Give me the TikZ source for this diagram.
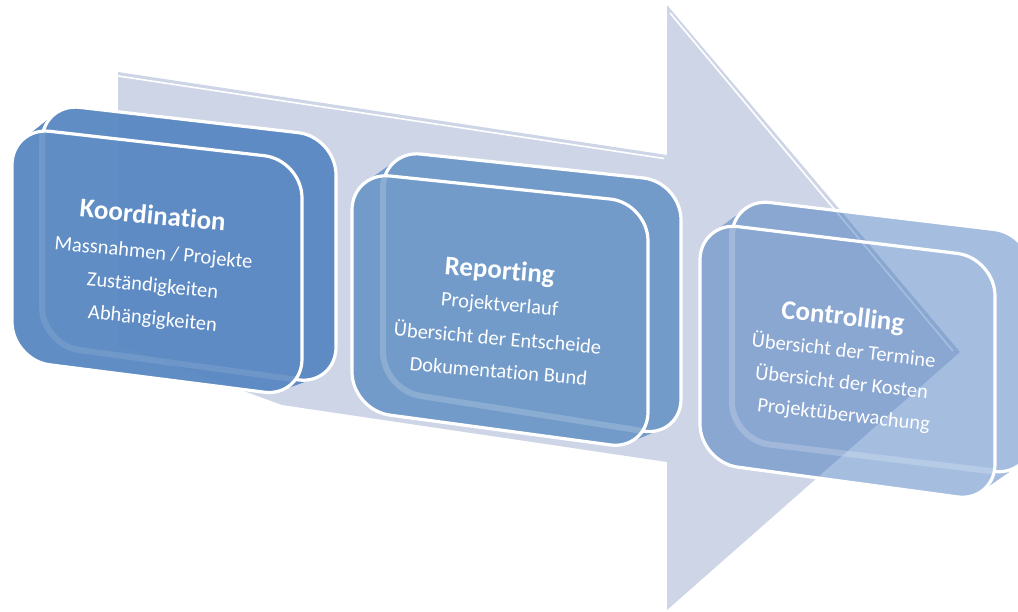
\documentclass[tikz,border=0pt]{standalone}
\usepackage{fontspec}
\setmainfont{Carlito}[Ligatures={NoCommon,NoDiscretionary}]
\usetikzlibrary{calc}
\definecolor{arrowc}{HTML}{CDD5E6}
\definecolor{boxA}{HTML}{5A89C2}
\definecolor{boxB}{HTML}{729BC9}
\definecolor{boxC}{RGB}{59,114,188}
\newcommand\drawbox[4]{%
  \begin{scope}[transparency group, opacity=#3]
    \fill[#2,face] (#1Ba)--(#1Bb)--(#1Bc)--(#1Bd)--cycle;
    \foreach \t in {0.08,0.16,...,0.96}{
      \fill[#2,face] ($(#1Ba)!\t!(#1Fa)$)--($(#1Bb)!\t!(#1Fb)$)--($(#1Bc)!\t!(#1Fc)$)--($(#1Bd)!\t!(#1Fd)$)--cycle;
    }
    \fill[#2,face] (#1Fa)--(#1Fb)--(#1Fc)--(#1Fd)--cycle;
  \end{scope}
  \begin{scope}[even odd rule,face]
    \clip (0,0) rectangle (1018,612) (#1Fa)--(#1Fb)--(#1Fc)--(#1Fd)--cycle;
    \draw[outline] (#1Ba)--(#1Bb)--(#1Bc)--(#1Bd)--cycle;
  \end{scope}
  \begin{scope}[face]
    \clip (#1Fa)--(#1Fb)--(#1Fc)--(#1Fd)--cycle;
    \draw[white,opacity=#4,line width=6pt] (#1Ba)--(#1Bb)--(#1Bc)--(#1Bd)--cycle;
  \end{scope}
  \draw[outline,face] (#1Fa)--(#1Fb)--(#1Fc)--(#1Fd)--cycle;
}
\begin{document}
\begin{tikzpicture}[x=1pt,y=-1pt,
  face/.style={rounded corners=38pt},
  outline/.style={draw=white,line width=3.2pt},
  title/.style={font=\bfseries\fontsize{27}{30}\selectfont,text=white,inner sep=0pt,anchor=base},
  body/.style={font=\fontsize{20.5}{24}\selectfont,text=white,inner sep=0pt,anchor=base}]
\useasboundingbox (0,0) rectangle (1018,612);
% background arrow
\coordinate (s1) at (118,72);
\coordinate (s2) at (667,155);
\coordinate (h1) at (667,5);
\coordinate (tip) at (960,352);
\coordinate (h2) at (667,610);
\coordinate (s3) at (667,462);
\coordinate (s4) at (282,405);
\coordinate (s5) at (118,345);
\fill[arrowc] (s1)--(s2)--(h1)--(tip)--(h2)--(s3)--(s4)--(s5)--cycle;
\coordinate (w1) at (118,76);
\coordinate (w2) at (664,158.5);
\coordinate (w3) at (670,13);
\coordinate (w4) at (953,351);
\draw[white,line width=1.6pt] (w1)--(w2);
\draw[white,line width=1.6pt] (w3)--(w4);
% box 1
\coordinate (KFa) at (12,127);  \coordinate (KFb) at (302,160);
\coordinate (KFc) at (302,397); \coordinate (KFd) at (12,360);
\coordinate (KBa) at (42,103);  \coordinate (KBb) at (336,137);
\coordinate (KBc) at (336,385); \coordinate (KBd) at (42,345);
\drawbox{K}{boxA}{0.96}{0.1}
% box 2
\coordinate (RFa) at (352,172); \coordinate (RFb) at (648,203);
\coordinate (RFc) at (648,450); \coordinate (RFd) at (352,410);
\coordinate (RBa) at (383,150); \coordinate (RBb) at (681,182);
\coordinate (RBc) at (681,437); \coordinate (RBd) at (383,390);
\drawbox{R}{boxB}{1}{0.18}
% box 3
\coordinate (CFa) at (700,222); \coordinate (CFb) at (995,258);
\coordinate (CFc) at (995,502); \coordinate (CFd) at (700,462);
\coordinate (CBa) at (732,198); \coordinate (CBb) at (1032,234);
\coordinate (CBc) at (1032,476); \coordinate (CBd) at (732,440);
\drawbox{C}{boxC}{0.46}{0.2}
% texts
\node[title,rotate=-5.5] (k0) at (152,224) {Koordination};
\node[body,rotate=-5.5] (k1) at (153,259) {Massnahmen / Projekte};
\node[body,rotate=-5.5] (k2) at (152,292) {Zuständigkeiten};
\node[body,rotate=-5.5] (k3) at (152,325) {Abhängigkeiten};
\node[title,rotate=-5] (r0) at (499,279) {Reporting};
\node[body,rotate=-5] (r1) at (499,311) {Projektverlauf};
\node[body,rotate=-5] (r2) at (497,345) {Übersicht der Entscheide};
\node[body,rotate=-5] (r3) at (498,378) {Dokumentation Bund};
\node[title,rotate=-6.5] (c0) at (842,325) {Controlling};
\node[body,rotate=-6.5] (c1) at (843,357) {Übersicht der Termine};
\node[body,rotate=-6.5] (c2) at (841,389) {Übersicht der Kosten};
\node[body,rotate=-6.5] (c3) at (843,421) {Projektüberwachung};
\end{tikzpicture}
\end{document}
